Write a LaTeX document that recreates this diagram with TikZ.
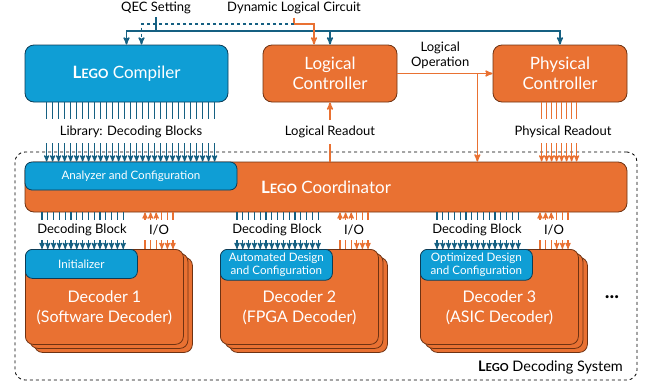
\documentclass[tikz,border=0pt]{standalone}
\usepackage{fontspec}
\setmainfont{Lato}
\usetikzlibrary{arrows,calc}
\definecolor{legoblue}{HTML}{0F9ED5}
\definecolor{legoorange}{HTML}{E97132}
\definecolor{wireblue}{HTML}{156082}
\definecolor{blueedge}{HTML}{0B3C57}
\definecolor{orangeedge}{HTML}{6E3212}
\newcommand\legoname{\textbf{L\scalebox{0.76}{EGO}}}

\begin{document}
\begin{tikzpicture}[x=1pt,y=-1pt,>=stealth',
    legobox/.style={rounded corners=9pt,line width=0.8pt,text=white,align=center,font=\fontsize{17}{20}\selectfont},
    bluebox/.style={legobox,fill=legoblue,draw=blueedge},
    orangebox/.style={legobox,fill=legoorange,draw=orangeedge},
    smallbox/.style={bluebox,rounded corners=7pt,font=\fontsize{11.6}{13.5}\selectfont},
    decoderbox/.style={orangebox,rounded corners=8pt,minimum width=158pt,minimum height=95pt,anchor=north west},
    wiretext/.style={fill=white,inner sep=0pt,minimum height=20pt,font=\fontsize{13}{15}\selectfont},
    plaintext/.style={font=\fontsize{13}{15}\selectfont,align=center},
    bluewire/.style={draw=wireblue,line width=1.2pt},
    orangewire/.style={draw=legoorange,line width=1.2pt},
    bus/.style={line width=1.5pt}]
  \useasboundingbox (0,0) rectangle (649,386);

  \node[draw,dashed,line width=0.8pt,rounded corners=10pt,minimum width=622pt,minimum height=228pt] (system) at (326,266) {};
  \node[anchor=east,font=\fontsize{14.5}{17}\selectfont] (systemname) at ($(system.south east)+(-11,-13)$) {\legoname{} Decoding System};

  \node[plaintext] (qec)     at (156,8) {QEC Setting};
  \node[plaintext] (dynamic) at (294,8) {Dynamic Logical Circuit};

  \node[bluebox,minimum width=203pt,minimum height=57pt]   (compiler) at (126.5,73.5) {\legoname{} Compiler};
  \node[orangebox,minimum width=134pt,minimum height=57pt] (logical)  at (330,73.5)   {Logical\\Controller};
  \node[orangebox,minimum width=134pt,minimum height=57pt] (physical) at (560,73.5)   {Physical\\Controller};

  \node[orangebox,minimum width=602pt,minimum height=50pt] (coordinator) at (326,187) {\legoname{} Coordinator};
  \node[smallbox,minimum width=212pt,minimum height=28pt,anchor=north west] (analyzer) at (coordinator.north west) {Analyzer and Configuration};

  \coordinate (qecbus)   at (156,31);
  \coordinate (dynsplit) at (294,24);
  \draw[bluewire,bus] (qec) -- (qecbus);
  \draw[bluewire,bus,->] (qecbus) -| (compiler.north);
  \draw[bluewire,bus,->] (qecbus) -| (logical.north);
  \draw[bluewire,bus,->] (qecbus) -| (physical.north);
  \draw[orangewire,bus,->] (dynamic) -- (dynsplit) -| ($(logical.north)+(-16,0)$);
  \draw[bluewire,bus,dashed,->] (dynsplit) -| ($(compiler.north)+(15,0)$);

  \draw[orangewire,bus,->] (logical) -- node[plaintext,above=1pt,pos=0.45,text=black] {Logical\\Operation}
    coordinate[pos=0.84] (opsplit) (physical);
  \draw[orangewire,bus,->] (opsplit) -- (opsplit |- coordinator.north);
  \draw[orangewire,bus,->] (logical.south |- coordinator.north) -- node[wiretext,minimum height=24pt] (logreadout) {Logical Readout} (logical.south);

  \foreach \k in {0,...,28} {
    \path ($(compiler.south west)+({22+6*\k},0)$) coordinate (l);
    \draw[bluewire,->] (l) -- (l |- coordinator.north);
  }
  \node[wiretext,minimum width=172pt,minimum height=24pt] (library) at ($(compiler.south)+(4.5,29)$) {Library: Decoding Blocks};

  \foreach \k in {0,...,7} {
    \path ($(physical.south west)+({49+5*\k},0)$) coordinate (r);
    \draw[orangewire,->] (r) -- (r |- coordinator.north);
  }
  \node[wiretext,minimum height=24pt] (physreadout) at ($(physical.south)+(3,29)$) {Physical Readout};

  \foreach \n/\lx/\kind/\role in {1/25/Software Decoder/Initializer,
      2/220/FPGA Decoder/{Automated Design\\and Configuration},
      3/420/ASIC Decoder/{Optimized Design\\and Configuration}} {
    \node[decoderbox] (back\n)  at ({\lx+9},257) {};
    \node[decoderbox] (mid\n)   at ({\lx+4.5},253) {};
    \node[decoderbox] (dec\n)   at (\lx,249) {};
    \node[smallbox,minimum width=112pt,minimum height=29pt,anchor=north west] (role\n) at (dec\n.north west) {\role};
    \node[text=white,align=center,font=\fontsize{16}{19.5}\selectfont] (name\n) at ($(dec\n.center)+(0,11)$) {Decoder \n\\(\kind)};
    \foreach \k in {0,...,14} {
      \path ($(dec\n.north west)+({17+5.8*\k},0)$) coordinate (b);
      \draw[bluewire,->] (b |- coordinator.south) -- (b);
    }
    \node[wiretext,minimum width=86pt] (block\n) at ($(dec\n.north west)+(57,-19)$) {Decoding Block};
    \foreach \k in {0,1,2} {
      \path ($(dec\n.north west)+({120+5.6*\k},0)$) coordinate (u);
      \draw[orangewire,->] (u) -- (u |- coordinator.south);
    }
    \foreach \k in {3,4,5} {
      \path ($(dec\n.north west)+({120+5.6*\k},0)$) coordinate (d);
      \draw[orangewire,->] (d |- coordinator.south) -- (d);
    }
    \node[wiretext,minimum width=34pt] (io\n) at ($(dec\n.north west)+(134,-19)$) {I/O};
  }
  \node[font=\fontsize{20}{20}\selectfont] (more) at (612,297) {\textbf{...}};
\end{tikzpicture}
\end{document}
